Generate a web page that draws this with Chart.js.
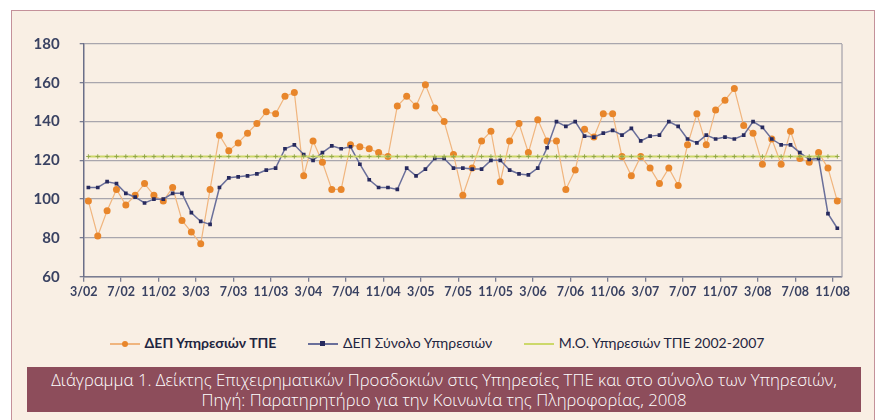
<!DOCTYPE html>
<html>
<head>
<meta charset="utf-8">
<script src="https://cdn.jsdelivr.net/npm/chart.js@4"></script>
<style>
    body { margin: 0; background: #ffffff; width: 881px; height: 420px; overflow: hidden; position: relative; font-family: Lato, sans-serif; }
    #frame { position: absolute; left: 11px; top: 10px; width: 862px; height: 420px; border: 1.5px solid #c4919a; background: #f9efe4; }
    #wrap { position: absolute; left: 1px; top: 1px; width: 862px; height: 300px; }
    #legend { position: absolute; left: -6px; top: 321px; width: 862px; text-align: center; font-size: 14px; color: #1f2540; white-space: nowrap; }
    .item { display: inline-block; margin: 0 14px; vertical-align: middle; }
    .sw { display: inline-block; position: relative; width: 30px; height: 10px; vertical-align: middle; margin-right: 5px; }
    .sw .ln { position: absolute; left: 0; right: 0; top: 4px; height: 1.5px; }
    .sw .dt { position: absolute; left: 12px; top: 2px; width: 6px; height: 6px; }
    #caption { position: absolute; left: 15px; top: 356px; width: 834px; height: 45px; background: #8d4d5b; color: #ffffff; text-align: center; font-family: "Open Sans", sans-serif; font-weight: 300; font-size: 16.8px; line-height: 19.5px; padding-top: 3px; box-sizing: border-box; white-space: nowrap; }
</style>
</head>
<body>
<div id="frame">
    <div id="wrap"><canvas id="graph" width="862" height="300"></canvas></div>
    <div id="legend">
        <span class="item"><span class="sw"><span class="ln" style="background:#f0b57e"></span><span class="dt" style="background:#e8862b;border-radius:50%"></span></span><b>ΔΕΠ Υπηρεσιών ΤΠΕ</b></span>
        <span class="item"><span class="sw"><span class="ln" style="background:#6a6f9a"></span><span class="dt" style="background:#272a5e;width:5px;height:5px"></span></span>ΔΕΠ Σύνολο Υπηρεσιών</span>
        <span class="item"><span class="sw"><span class="ln" style="background:#cdd86a"></span></span>Μ.Ο. Υπηρεσιών ΤΠΕ 2002-2007</span>
    </div>
    <div id="caption">Διάγραμμα 1. Δείκτης Επιχειρηματικών Προσδοκιών στις Υπηρεσίες ΤΠΕ και στο σύνολο των Υπηρεσιών,<br>Πηγή: Παρατηρητήριο για την Κοινωνία της Πληροφορίας, 2008</div>
</div>
<script>
// months 3/02 .. 11/08
const MONTHS = [
    '3/02', '4/02', '5/02', '6/02', '7/02', '8/02', '9/02', '10/02', '11/02', '12/02',
    '1/03', '2/03', '3/03', '4/03', '5/03', '6/03', '7/03', '8/03', '9/03', '10/03', '11/03', '12/03',
    '1/04', '2/04', '3/04', '4/04', '5/04', '6/04', '7/04', '8/04', '9/04', '10/04', '11/04', '12/04',
    '1/05', '2/05', '3/05', '4/05', '5/05', '6/05', '7/05', '8/05', '9/05', '10/05', '11/05', '12/05',
    '1/06', '2/06', '3/06', '4/06', '5/06', '6/06', '7/06', '8/06', '9/06', '10/06', '11/06', '12/06',
    '1/07', '2/07', '3/07', '4/07', '5/07', '6/07', '7/07', '8/07', '9/07', '10/07', '11/07', '12/07',
    '1/08', '2/08', '3/08', '4/08', '5/08', '6/08', '7/08', '8/08', '9/08', '10/08', '11/08'
];

const tpeServices = [
    99, 81, 94, 105, 97, 102, 108, 102, 99, 106,
    89, 83, 77, 105, 133, 125, 129, 134, 139, 145, 144, 153,
    155, 112, 130, 119, 105, 105, 128, 127, 126, 124, 122, 148,
    153, 148, 159, 147, 140, 123, 102, 116, 130, 135, 109, 130,
    139, 124, 141, 130, 130, 105, 115, 136, 132, 144, 144, 122,
    112, 122, 116, 108, 116, 107, 128, 144, 128, 146, 151, 157,
    138, 134, 118, 131, 118, 135, 121, 119, 124, 116, 99
];

const allServices = [
    106, 106, 109, 108, 103, 101, 98, 100, 100, 103,
    103, 93, 88.5, 87, 106, 111, 111.5, 112, 113, 115, 116, 126,
    128, 123, 120, 124, 127.5, 126, 127, 118, 110, 106, 106, 105,
    116, 112, 115.5, 121, 121, 116, 116, 115.5, 115.5, 120, 120, 115,
    113, 112.5, 116, 126.5, 140, 137.5, 140, 132.5, 132, 134, 135.5, 133,
    136.5, 130, 132.5, 133, 140, 137.5, 131, 129, 133, 131, 132, 131,
    133, 140, 137, 131, 128, 128, 124, 120.5, 121, 92.5, 85
];

const tpeAverage = [
    122, 122, 122, 122, 122, 122, 122, 122, 122, 122,
    122, 122, 122, 122, 122, 122, 122, 122, 122, 122, 122, 122,
    122, 122, 122, 122, 122, 122, 122, 122, 122, 122, 122, 122,
    122, 122, 122, 122, 122, 122, 122, 122, 122, 122, 122, 122,
    122, 122, 122, 122, 122, 122, 122, 122, 122, 122, 122, 122,
    122, 122, 122, 122, 122, 122, 122, 122, 122, 122, 122, 122,
    122, 122, 122, 122, 122, 122, 122, 122, 122, 122, 122
];

const Y_TICKS = [60, 80, 100, 120, 140, 160, 180];
const TEXT_COLOR = '#3a4262';

// frame line round the plot area (right edge)
const plotBorder = {
    id: 'plotBorder',
    beforeDatasetsDraw(chart) {
        const { ctx, chartArea } = chart;
        ctx.save();
        ctx.strokeStyle = '#a9a6ad';
        ctx.lineWidth = 1.3;
        ctx.beginPath();
        ctx.moveTo(chartArea.right, chartArea.top);
        ctx.lineTo(chartArea.right, chartArea.bottom);
        ctx.stroke();
        ctx.restore();
    }
};

const ctx = document.getElementById('graph').getContext('2d');
new Chart(ctx, {
    type: 'line',
    data: {
        labels: MONTHS,
        datasets: [
            {
                label: 'ΔΕΠ Υπηρεσιών ΤΠΕ',
                data: tpeServices,
                borderColor: '#f0b57e',
                borderWidth: 1.2,
                pointRadius: 3.5,
                pointBackgroundColor: '#e8862b',
                pointBorderColor: '#e8862b',
                pointBorderWidth: 0,
                tension: 0,
                order: 2
            },
            {
                label: 'ΔΕΠ Σύνολο Υπηρεσιών',
                data: allServices,
                borderColor: '#6a6f9a',
                borderWidth: 1.5,
                pointStyle: 'rect',
                pointRadius: 2.6,
                pointBackgroundColor: '#272a5e',
                pointBorderColor: '#272a5e',
                pointBorderWidth: 0,
                tension: 0,
                order: 1
            },
            {
                label: 'Μ.Ο. Υπηρεσιών ΤΠΕ 2002-2007',
                data: tpeAverage,
                borderColor: '#cdd86a',
                borderWidth: 2,
                pointStyle: 'cross',
                pointRadius: 2.2,
                pointBorderColor: '#93a84a',
                pointBorderWidth: 1,
                tension: 0,
                order: 0
            }
        ]
    },
    options: {
        responsive: false,
        animation: false,
        layout: { padding: { top: 32, right: 33, left: 0, bottom: 0 } },
        plugins: { legend: { display: false }, tooltip: { enabled: false } },
        scales: {
            x: {
                offset: true,
                afterFit: (s) => { s.height = 35.3; },
                grid: {
                    offset: true,
                    drawOnChartArea: false,
                    drawTicks: true,
                    tickLength: 5,
                    color: (c) => (c.index % 4 === 0 ? '#7a7d92' : 'rgba(0,0,0,0)'),
                    lineWidth: 1.3
                },
                border: { color: '#7a7d92', width: 1.5 },
                ticks: {
                    autoSkip: false,
                    maxRotation: 0,
                    labelOffset: -4.7,
                    padding: 3,
                    color: TEXT_COLOR,
                    font: { family: 'Lato', weight: 'bold', size: 12.5 },
                    callback: (v, i) => (i % 4 === 0 ? MONTHS[i] : '')
                }
            },
            y: {
                min: Y_TICKS[0],
                max: Y_TICKS[Y_TICKS.length - 1],
                afterFit: (s) => { s.width = 70.7; },
                afterBuildTicks: (s) => { s.ticks = Y_TICKS.map(v => ({ value: v })); },
                grid: {
                    color: '#a9a6ad',
                    lineWidth: 1.3,
                    tickLength: 4,
                    tickColor: '#7a7d92'
                },
                border: { color: '#6b6f88', width: 1.5 },
                ticks: {
                    padding: 20,
                    color: TEXT_COLOR,
                    font: { family: 'Lato', weight: 'bold', size: 15 }
                }
            }
        }
    },
    plugins: [plotBorder]
});
</script>
</body>
</html>
